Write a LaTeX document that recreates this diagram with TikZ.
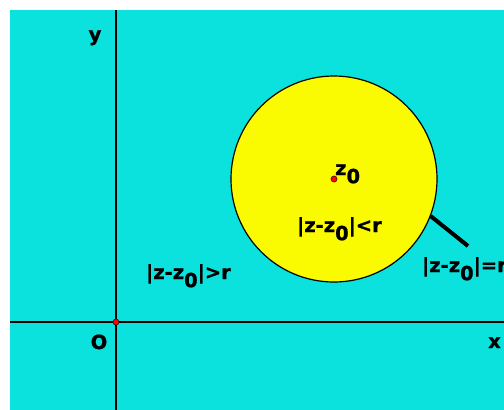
\documentclass[tikz,border=0pt]{standalone}
\usepackage{fontspec}
\setmainfont{DejaVu Sans}
\newfontfamily\lblfont{DejaVu Sans Bold}[FakeBold=1.0]
\definecolor{planecyan}{RGB}{11,226,221}
\definecolor{diskyellow}{RGB}{250,250,0}
\newcommand{\zo}{z\raisebox{-0.42em}{0}}

\begin{document}
\begin{tikzpicture}[
    x=1pt, y=-1pt,
    dot/.style={circle, fill=red, draw=black, line width=0.4pt, inner sep=2.2pt},
    axis/.style={line width=1.2pt},
    lbl/.style={font=\fontsize{19.5}{22}\lblfont, inner sep=0pt}
]

% Page and background
\clip (0,0) rectangle (504,410);
\fill[white] (0,0) rectangle (504,410);
\fill[planecyan] (10,10) rectangle (504,410);

% Axes
\coordinate (xl) at (10,322);
\coordinate (xr) at (504,322);
\coordinate (yt) at (116,10);
\coordinate (yb) at (116,410);
\draw[axis] (xl) -- (xr);
\draw[axis] (yt) -- (yb);

% Disk
\node[circle, fill=diskyellow, draw=black, line width=1.2pt,
      minimum size=206pt, inner sep=0pt] (disk) at (334,179) {};

% Points
\node[dot] (O) at (116,322) {};
\node[dot] (z0) at (334,179) {};

% Boundary pointer
\coordinate (tip) at (468,246);
\draw[line width=4pt] (disk.-21) -- (tip);

% Labels
\node[lbl, anchor=base] (ylab) at (95,41) {y};
\node[lbl, anchor=base] (xlab) at (494.5,348) {x};
\node[lbl, anchor=base] (Olab) at (99,349) {O};
\node[lbl, anchor=base west] (z0lab) at (335,175) {\zo};
\node[lbl, anchor=base] (inside) at (339.5,232) {|z-\zo|<r};
\node[lbl, anchor=base] (outside) at (188.5,279) {|z-\zo|>r};
\node[lbl, anchor=base west] (bound) at (422,272) {|z-\zo|=r};

\end{tikzpicture}
\end{document}
